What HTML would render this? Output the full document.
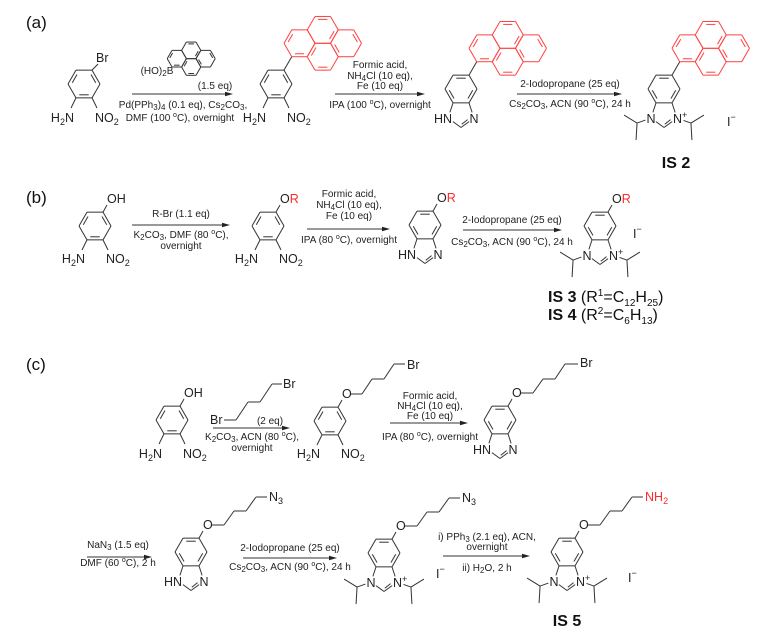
<!DOCTYPE html>
<html><head><meta charset="utf-8"><style>
html,body{margin:0;padding:0;background:#fff;}
svg{display:block;font-family:"Liberation Sans",Arial,sans-serif;}
.c{font-size:10px;fill:#222;text-anchor:middle;}
.a{font-size:12.5px;fill:#222;}
.p{font-size:17px;fill:#111;}
.red{fill:#ff2a2a;}
.is{font-size:16px;fill:#111;}
</style></head><body>
<svg id="s" width="775" height="638" viewBox="0 0 775 638" xmlns="http://www.w3.org/2000/svg">
<g id="g" stroke="#333" stroke-width="1" fill="none"></g>
<!-- panel labels -->
<text class="p" x="26" y="28">(a)</text>
<text class="p" x="26" y="203">(b)</text>
<text class="p" x="26" y="370">(c)</text>

<!-- (a) -->
<text class="a" x="96" y="62">Br</text>
<text class="a" x="74" y="122" text-anchor="end">H<tspan font-size="9" dy="3">2</tspan><tspan dy="-3">N</tspan></text>
<text class="a" x="95" y="122">NO<tspan font-size="9" dy="3">2</tspan></text>
<text class="c" x="157" y="74">(HO)<tspan font-size="8" dy="2">2</tspan><tspan dy="-2">B</tspan></text>
<text class="c" x="215" y="89">(1.5 eq)</text>
<text class="c" x="183" y="108">Pd(PPh<tspan font-size="8" dy="2">3</tspan><tspan dy="-2">)</tspan><tspan font-size="8" dy="2">4</tspan><tspan dy="-2"> (0.1 eq), Cs</tspan><tspan font-size="8" dy="2">2</tspan><tspan dy="-2">CO</tspan><tspan font-size="8" dy="2">3</tspan><tspan dy="-2">,</tspan></text>
<text class="c" x="180" y="121">DMF (100 <tspan font-size="7" dy="-4">o</tspan><tspan dy="4">C), overnight</tspan></text>
<text class="a" x="266" y="122" text-anchor="end">H<tspan font-size="9" dy="3">2</tspan><tspan dy="-3">N</tspan></text>
<text class="a" x="287" y="122">NO<tspan font-size="9" dy="3">2</tspan></text>
<text class="c" x="380" y="68">Formic acid,</text>
<text class="c" x="380" y="79">NH<tspan font-size="8" dy="2">4</tspan><tspan dy="-2">Cl (10 eq),</tspan></text>
<text class="c" x="380" y="89">Fe (10 eq)</text>
<text class="c" x="380" y="108">IPA (100 <tspan font-size="7" dy="-4">o</tspan><tspan dy="4">C), overnight</tspan></text>
<text class="a" x="452" y="123" text-anchor="end">HN</text>
<text class="a" x="474" y="123" text-anchor="middle">N</text>
<text class="c" x="570" y="87">2-Iodopropane (25 eq)</text>
<text class="c" x="570" y="107">Cs<tspan font-size="8" dy="2">2</tspan><tspan dy="-2">CO</tspan><tspan font-size="8" dy="2">3</tspan><tspan dy="-2">, ACN (90 </tspan><tspan font-size="7" dy="-4">o</tspan><tspan dy="4">C), 24 h</tspan></text>
<text class="a" x="651" y="123" text-anchor="middle">N</text>
<text class="a" x="673" y="123">N<tspan font-size="9" dy="-5">+</tspan></text>
<text class="a" x="727" y="126">I<tspan font-size="9" dy="-6">−</tspan></text>
<text class="is" x="676" y="168" text-anchor="middle" font-weight="bold">IS 2</text>

<!-- (b) -->
<text class="a" x="107" y="203">OH</text>
<text class="a" x="85" y="263" text-anchor="end">H<tspan font-size="9" dy="3">2</tspan><tspan dy="-3">N</tspan></text>
<text class="a" x="106" y="263">NO<tspan font-size="9" dy="3">2</tspan></text>
<text class="c" x="181" y="217">R-Br (1.1 eq)</text>
<text class="c" x="181" y="238">K<tspan font-size="8" dy="2">2</tspan><tspan dy="-2">CO</tspan><tspan font-size="8" dy="2">3</tspan><tspan dy="-2">, DMF (80 </tspan><tspan font-size="7" dy="-4">o</tspan><tspan dy="4">C),</tspan></text>
<text class="c" x="181" y="249">overnight</text>
<text class="a" x="280" y="203">O<tspan class="red">R</tspan></text>
<text class="a" x="258" y="263" text-anchor="end">H<tspan font-size="9" dy="3">2</tspan><tspan dy="-3">N</tspan></text>
<text class="a" x="279" y="263">NO<tspan font-size="9" dy="3">2</tspan></text>
<text class="c" x="349" y="197">Formic acid,</text>
<text class="c" x="349" y="208">NH<tspan font-size="8" dy="2">4</tspan><tspan dy="-2">Cl (10 eq),</tspan></text>
<text class="c" x="349" y="219">Fe (10 eq)</text>
<text class="c" x="349" y="243">IPA (80 <tspan font-size="7" dy="-4">o</tspan><tspan dy="4">C), overnight</tspan></text>
<text class="a" x="437" y="202">O<tspan class="red">R</tspan></text>
<text class="a" x="416" y="259" text-anchor="end">HN</text>
<text class="a" x="438" y="259" text-anchor="middle">N</text>
<text class="c" x="512" y="223">2-Iodopropane (25 eq)</text>
<text class="c" x="512" y="245">Cs<tspan font-size="8" dy="2">2</tspan><tspan dy="-2">CO</tspan><tspan font-size="8" dy="2">3</tspan><tspan dy="-2">, ACN (90 </tspan><tspan font-size="7" dy="-4">o</tspan><tspan dy="4">C), 24 h</tspan></text>
<text class="a" x="612" y="203">O<tspan class="red">R</tspan></text>
<text class="a" x="587" y="260" text-anchor="middle">N</text>
<text class="a" x="609" y="260">N<tspan font-size="9" dy="-5">+</tspan></text>
<text class="a" x="633" y="238">I<tspan font-size="9" dy="-6">−</tspan></text>
<text class="is" x="548" y="302"><tspan font-weight="bold">IS 3</tspan> (R<tspan font-size="10" dy="-6">1</tspan><tspan dy="6">=C</tspan><tspan font-size="10" dy="4">12</tspan><tspan dy="-4">H</tspan><tspan font-size="10" dy="4">25</tspan><tspan dy="-4">)</tspan></text>
<text class="is" x="548" y="320"><tspan font-weight="bold">IS 4</tspan> (R<tspan font-size="10" dy="-6">2</tspan><tspan dy="6">=C</tspan><tspan font-size="10" dy="4">6</tspan><tspan dy="-4">H</tspan><tspan font-size="10" dy="4">13</tspan><tspan dy="-4">)</tspan></text>

<!-- (c) row 1 -->
<text class="a" x="184" y="397">OH</text>
<text class="a" x="162" y="458" text-anchor="end">H<tspan font-size="9" dy="3">2</tspan><tspan dy="-3">N</tspan></text>
<text class="a" x="183" y="458">NO<tspan font-size="9" dy="3">2</tspan></text>
<text class="a" x="210" y="424">Br</text>
<text class="a" x="283" y="388">Br</text>
<text class="c" x="270" y="424">(2 eq)</text>
<text class="c" x="252" y="440">K<tspan font-size="8" dy="2">2</tspan><tspan dy="-2">CO</tspan><tspan font-size="8" dy="2">3</tspan><tspan dy="-2">, ACN (80 </tspan><tspan font-size="7" dy="-4">o</tspan><tspan dy="4">C),</tspan></text>
<text class="c" x="252" y="451">overnight</text>
<text class="a" x="342" y="398">O</text>
<text class="a" x="407" y="369">Br</text>
<text class="a" x="320" y="458" text-anchor="end">H<tspan font-size="9" dy="3">2</tspan><tspan dy="-3">N</tspan></text>
<text class="a" x="341" y="458">NO<tspan font-size="9" dy="3">2</tspan></text>
<text class="c" x="430" y="399">Formic acid,</text>
<text class="c" x="430" y="409">NH<tspan font-size="8" dy="2">4</tspan><tspan dy="-2">Cl (10 eq),</tspan></text>
<text class="c" x="430" y="419">Fe (10 eq)</text>
<text class="c" x="430" y="440">IPA (80 <tspan font-size="7" dy="-4">o</tspan><tspan dy="4">C), overnight</tspan></text>
<text class="a" x="512" y="397">O</text>
<text class="a" x="580" y="367">Br</text>
<text class="a" x="491" y="454" text-anchor="end">HN</text>
<text class="a" x="513" y="454" text-anchor="middle">N</text>

<!-- (c) row 2 -->
<text class="c" x="118" y="548">NaN<tspan font-size="8" dy="2">3</tspan><tspan dy="-2"> (1.5 eq)</tspan></text>
<text class="c" x="118" y="566">DMF (60 <tspan font-size="7" dy="-4">o</tspan><tspan dy="4">C), 2 h</tspan></text>
<text class="a" x="203" y="529">O</text>
<text class="a" x="269" y="501">N<tspan font-size="9" dy="3">3</tspan></text>
<text class="a" x="182" y="586" text-anchor="end">HN</text>
<text class="a" x="204" y="586" text-anchor="middle">N</text>
<text class="c" x="290" y="551">2-Iodopropane (25 eq)</text>
<text class="c" x="290" y="570">Cs<tspan font-size="8" dy="2">2</tspan><tspan dy="-2">CO</tspan><tspan font-size="8" dy="2">3</tspan><tspan dy="-2">, ACN (90 </tspan><tspan font-size="7" dy="-4">o</tspan><tspan dy="4">C), 24 h</tspan></text>
<text class="a" x="396" y="530">O</text>
<text class="a" x="462" y="502">N<tspan font-size="9" dy="3">3</tspan></text>
<text class="a" x="371" y="587" text-anchor="middle">N</text>
<text class="a" x="393" y="587">N<tspan font-size="9" dy="-5">+</tspan></text>
<text class="a" x="436" y="578">I<tspan font-size="9" dy="-6">−</tspan></text>
<text class="c" x="487" y="540">i) PPh<tspan font-size="8" dy="2">3</tspan><tspan dy="-2"> (2.1 eq), ACN,</tspan></text>
<text class="c" x="487" y="550">overnight</text>
<text class="c" x="487" y="571">ii) H<tspan font-size="8" dy="2">2</tspan><tspan dy="-2">O, 2 h</tspan></text>
<text class="a" x="579" y="529">O</text>
<text class="a red" x="645" y="501">NH<tspan font-size="9" dy="3">2</tspan></text>
<text class="a" x="554" y="586" text-anchor="middle">N</text>
<text class="a" x="576" y="586">N<tspan font-size="9" dy="-5">+</tspan></text>
<text class="a" x="628" y="582">I<tspan font-size="9" dy="-6">−</tspan></text>
<text class="is" x="567" y="626" text-anchor="middle" font-weight="bold">IS 5</text>
</svg>
<script>
(function(){
var G=document.getElementById('g'),NS='http://www.w3.org/2000/svg',RED='#ff4040';
function ln(x1,y1,x2,y2,c){var e=document.createElementNS(NS,'line');e.setAttribute('x1',x1);e.setAttribute('y1',y1);e.setAttribute('x2',x2);e.setAttribute('y2',y2);if(c)e.setAttribute('stroke',c);G.appendChild(e);}
function tl(p,q,t1,t2,c){var dx=q[0]-p[0],dy=q[1]-p[1],d=Math.hypot(dx,dy);ln(p[0]+dx/d*t1,p[1]+dy/d*t1,q[0]-dx/d*t2,q[1]-dy/d*t2,c);}
function hv(cx,cy,r){var v=[];for(var i=0;i<6;i++)v.push([cx+r*Math.cos(i*Math.PI/3),cy+r*Math.sin(i*Math.PI/3)]);return v;}
function inner(p,q,c,col){var f=0.22,a=[p[0]+(c[0]-p[0])*f,p[1]+(c[1]-p[1])*f],b=[q[0]+(c[0]-q[0])*f,q[1]+(c[1]-q[1])*f];var s=0.12;ln(a[0]+(b[0]-a[0])*s,a[1]+(b[1]-a[1])*s,b[0]-(b[0]-a[0])*s,b[1]-(b[1]-a[1])*s,col);}
function ring(cx,cy,r,dbl,col,skip){var v=hv(cx,cy,r);for(var i=0;i<6;i++){if(skip&&skip.indexOf(i)>=0)continue;var j=(i+1)%6;ln(v[i][0],v[i][1],v[j][0],v[j][1],col);}(dbl||[]).forEach(function(e){inner(v[e[0]],v[e[1]],[cx,cy],col);});return v;}
function pyr(ax,ay,r,col){var x=ax+2*r,y=ay-0.866*r,h=0.866*r;
ring(x,y-h,r,[[4,5],[0,1]],col);ring(x,y+h,r,[[1,2],[3,4]],col);ring(x-1.5*r,y,r,[[3,4],[1,2]],col);ring(x+1.5*r,y,r,[[5,0],[2,3]],col);}
function arrow(x1,y,x2){ln(x1,y,x2-5,y);var e=document.createElementNS(NS,'polygon');e.setAttribute('points',(x2-8)+','+(y-2.3)+' '+x2+','+y+' '+(x2-8)+','+(y+2.3));e.setAttribute('fill','#222');e.setAttribute('stroke','none');G.appendChild(e);}
var R=16;
function nitro(cx,cy){var v=ring(cx,cy,R,[[1,2],[3,4],[5,0]]);ln(v[2][0],v[2][1],cx-13,cy+24);ln(v[1][0],v[1][1],cx+13,cy+24);return v;}
function top(v,len){ln(v[5][0],v[5][1],v[5][0]+0.5*len,v[5][1]-0.866*len);return [v[5][0]+0.5*len,v[5][1]-0.866*len];}
function pent(cx,cy){var v=hv(cx,cy,R),A=v[2],B=v[1],C=[B[0]+R*0.309,B[1]+R*0.951],D=[C[0]-R*0.809,C[1]+R*0.588],E=[D[0]-R*0.809,D[1]-R*0.588];return{v:v,A:A,B:B,C:C,D:D,E:E};}
function bzim(cx,cy,imz){var v=ring(cx,cy,R,[[0,1],[2,3],[4,5]]);var p=pent(cx,cy);
tl(p.B,p.C,0,6);tl(p.C,p.D,6,0);tl(p.D,p.E,0,6);tl(p.E,p.A,6,0);
var m=[(p.C[0]+p.D[0])/2,(p.C[1]+p.D[1])/2],c=[cx,p.D[1]-13];var a=[p.C[0]+(c[0]-p.C[0])*0.25,p.C[1]+(c[1]-p.C[1])*0.25],b=[p.D[0]+(c[0]-p.D[0])*0.2,p.D[1]+(c[1]-p.D[1])*0.2];tl(a,b,4,1);
if(imz){var E=p.E,C=p.C,c1=[E[0]-14,E[1]+5];tl(E,c1,6,0);ln(c1[0],c1[1],c1[0]-13,c1[1]-8);ln(c1[0],c1[1],c1[0]-1,c1[1]+17);
var c2=[C[0]+14,C[1]+5];tl(C,c2,7,0);ln(c2[0],c2[1],c2[0]+13,c2[1]-8);ln(c2[0],c2[1],c2[0]+1,c2[1]+17);}
return v;}
function chain(pts){for(var i=0;i<pts.length-1;i++)ln(pts[i][0],pts[i][1],pts[i+1][0],pts[i+1][1]);}
function ochain(cx,cy,col){var v=hv(cx,cy,R);ln(v[5][0],v[5][1],cx+12,cy-21);var x=cx+21,y=cy-27;chain([[x,y],[x+12,y],[x+22,y-14],[x+34,y-14],[x+44,y-28],[x+55,y-28]]);}
// (a)
var v=nitro(84,84);ln(v[5][0],v[5][1],98,64);
arrow(132,94,233);pyr(172,67,9.6,'#333');
v=nitro(276,84);var a=top(v,15.5);pyr(a[0],a[1],15.5,RED);
arrow(335,94,425);
v=bzim(461,89,false);a=top(v,15.5);pyr(a[0],a[1],15.5,RED);
arrow(517,94,622);
v=bzim(664,89,true);a=top(v,15.5);pyr(a[0],a[1],15.5,RED);
// (b)
v=nitro(95,226);ln(v[5][0],v[5][1],107,205);
arrow(132,225,230);
v=nitro(268,226);ln(v[5][0],v[5][1],280,205);
arrow(307,229,390);
v=bzim(425,225,false);ln(v[5][0],v[5][1],437,204);
arrow(463,230,562);
v=bzim(600,226,true);ln(v[5][0],v[5][1],612,205);
// (c)
v=nitro(172,420);ln(v[5][0],v[5][1],184,399);
arrow(213,428,290);chain([[224,420],[236,420],[248,402],[260,402],[272,384],[282,384]]);
v=nitro(330,421);ln(v[5][0],v[5][1],342,400);chain([[351,394],[362,394],[372,379],[384,379],[394,364],[405,364]]);
arrow(390,423,468);
v=bzim(500,420,false);ln(v[5][0],v[5][1],512,399);chain([[521,393],[533,393],[543,379],[555,379],[565,364],[578,364]]);
arrow(87,557,152);
v=bzim(191,552,false);ochain(191,552);
arrow(243,558,337);
v=bzim(384,553,true);ochain(384,553);
arrow(443,556,530);
v=bzim(567,552,true);ochain(567,552);
})();
</script>
</body></html>
